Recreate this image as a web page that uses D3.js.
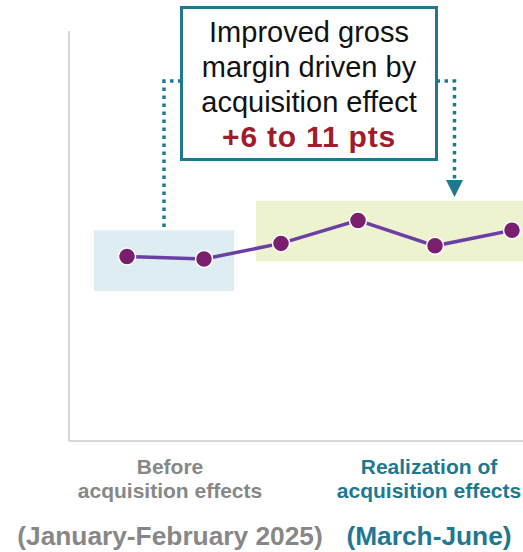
<!DOCTYPE html>
<html>
<head>
<meta charset="utf-8">
<script src="https://cdn.jsdelivr.net/npm/d3@7"></script>
<style>
  html, body { margin: 0; padding: 0; background: #ffffff; }
  svg { display: block; font-family: "Liberation Sans", Arial, sans-serif; }
</style>
</head>
<body>
<svg id="chart" width="523" height="552"></svg>
<script>
// Monthly gross margin (%), January to June 2025
const months = ["Jan", "Feb", "Mar", "Apr", "May", "Jun"];
const grossMargin = [22.5, 22.2, 24.1, 26.9, 23.8, 25.7];

// Shaded periods: before / after the acquisition effects (value extents of the band)
const periodFrom = ["Jan", "Mar"];
const periodTo = ["Feb", "Jun"];
const periodLow = [18.3, 21.9];
const periodHigh = [25.7, 29.3];
const periodFill = ["#deedf1", "#eef3cf"];

// Category labels under the axis
const periodTitles = [["Before", "acquisition effects"], ["Realization of", "acquisition effects"]];
const periodDates = ["(January-February 2025)", "(March-June)"];
const periodColors = ["#878787", "#1f7891"];

// Callout text
const calloutLines = ["Improved gross", "margin driven by", "acquisition effect"];
const calloutValue = "+6 to 11 pts";

const teal = "#1f7891";
const svg = d3.select("#chart");

const x = d3.scalePoint().domain(months).range([127, 512]);
const y = d3.scaleLinear().domain([0, 50]).range([441, 31]);

// Axis frame
const axisColor = "#d6d6d6";
svg.append("line").attr("x1", 69).attr("x2", 69).attr("y1", y(50)).attr("y2", y(0))
  .attr("stroke", axisColor).attr("stroke-width", 2);
svg.append("line").attr("x1", 69).attr("x2", 523).attr("y1", y(0)).attr("y2", y(0))
  .attr("stroke", axisColor).attr("stroke-width", 2);

// Period bands
const periods = periodFrom.map((f, i) => ({ from: f, to: periodTo[i], lo: periodLow[i], hi: periodHigh[i], fill: periodFill[i] }));
const padL = [33, 25], padR = [30, 12];
svg.selectAll("rect.period").data(periods).enter().append("rect")
  .attr("class", "period")
  .attr("x", (d, i) => x(d.from) - padL[i])
  .attr("width", (d, i) => x(d.to) + padR[i] - (x(d.from) - padL[i]))
  .attr("y", d => y(d.hi))
  .attr("height", d => y(d.lo) - y(d.hi))
  .attr("fill", d => d.fill);

// Margin line and markers
const series = months.map((m, i) => ({ m, v: grossMargin[i] }));
svg.append("path").datum(series)
  .attr("fill", "none").attr("stroke", "#6b3fa6").attr("stroke-width", 3.5)
  .attr("d", d3.line().x(d => x(d.m)).y(d => y(d.v)));
svg.selectAll("circle.pt").data(series).enter().append("circle")
  .attr("class", "pt")
  .attr("cx", d => x(d.m)).attr("cy", d => y(d.v)).attr("r", 8.5)
  .attr("fill", "#7a1f6e").attr("stroke", "#ffffff").attr("stroke-width", 1.5);

// Callout box
const box = { x: 181.5, y: 7.5, w: 255, h: 152 };
const connY = 81;
const leftX = 164, rightX = 454.5;

const dotted = { stroke: teal, "stroke-width": 3.5, "stroke-dasharray": "3.5 4.5", fill: "none" };
function applyAttrs(sel, attrs) { Object.entries(attrs).forEach(([k, v]) => sel.attr(k, v)); return sel; }

applyAttrs(svg.append("path")
  .attr("d", `M${box.x},${connY} H${leftX} V${y(periodHigh[0])}`), dotted);
applyAttrs(svg.append("path")
  .attr("d", `M${box.x + box.w},${connY} H${rightX} V${181}`), dotted);
svg.append("path")
  .attr("d", `M${rightX - 8.5},180 L${rightX + 8.5},180 L${rightX},197 Z`)
  .attr("fill", teal);

svg.append("rect")
  .attr("x", box.x).attr("y", box.y).attr("width", box.w).attr("height", box.h)
  .attr("fill", "#ffffff").attr("stroke", teal).attr("stroke-width", 3);

const cx = box.x + box.w / 2;
svg.selectAll("text.callout").data(calloutLines).enter().append("text")
  .attr("class", "callout")
  .attr("x", cx).attr("y", (d, i) => 41.5 + i * 35)
  .attr("text-anchor", "middle").attr("font-size", 29).attr("fill", "#111111")
  .text(d => d);
svg.append("text")
  .attr("x", cx).attr("y", 146.5)
  .attr("text-anchor", "middle").attr("font-size", 30).attr("font-weight", "bold")
  .attr("letter-spacing", 0.8)
  .attr("fill", "#9e1c2b")
  .text(calloutValue);

// Period labels
const labelX = [170, 429];
periodTitles.forEach((lines, i) => {
  lines.forEach((t, j) => {
    svg.append("text")
      .attr("x", labelX[i]).attr("y", 474 + j * 24)
      .attr("text-anchor", "middle").attr("font-size", 21).attr("font-weight", "bold")
      .attr("fill", periodColors[i]).text(t);
  });
  svg.append("text")
    .attr("x", labelX[i]).attr("y", 545)
    .attr("text-anchor", "middle").attr("font-size", 26.3).attr("font-weight", "bold")
    .attr("fill", periodColors[i]).text(periodDates[i]);
});
</script>
</body>
</html>
